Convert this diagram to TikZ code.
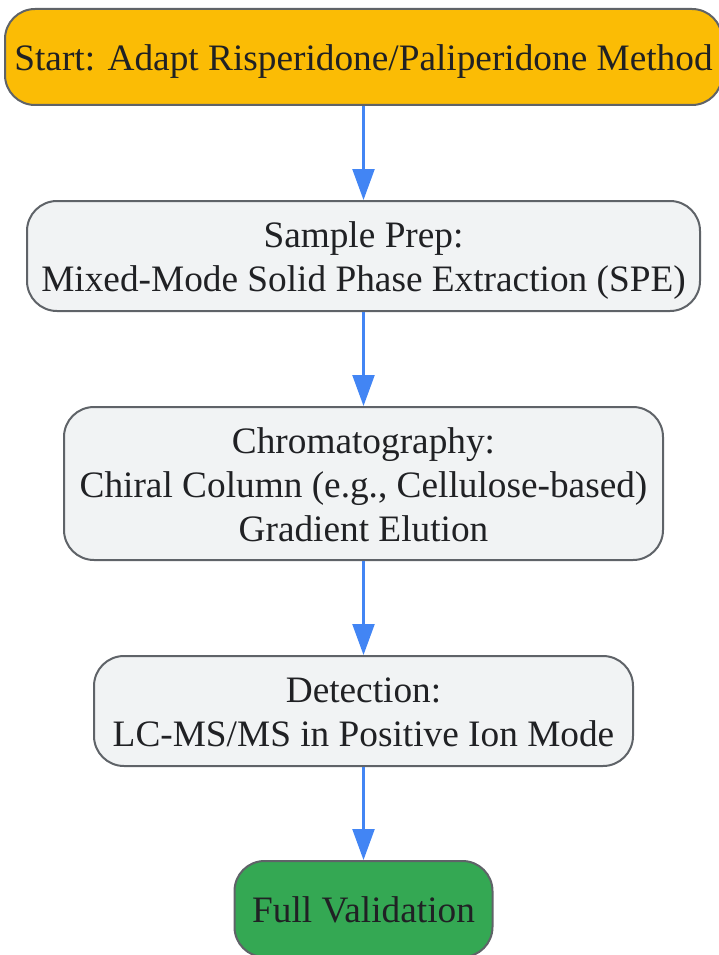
\documentclass[tikz,border=0pt]{standalone}
\usepackage{fontspec}
\setmainfont{Liberation Serif}
\usetikzlibrary{arrows.meta}
\definecolor{startfill}{HTML}{FBBC05}
\definecolor{endfill}{HTML}{34A853}
\definecolor{boxfill}{HTML}{F1F3F4}
\definecolor{boxline}{HTML}{5F6368}
\definecolor{arrowblue}{HTML}{4285F4}
\definecolor{txt}{HTML}{202124}
\newcommand{\linestrut}{\rule[-8.5pt]{0pt}{44pt}}
\tikzset{
  flowbox/.style={draw=boxline, line width=2pt, rounded corners=30pt, inner sep=0pt},
  flowtext/.style={inner sep=0pt, align=center, text=txt,
    font=\fontsize{37.3pt}{44pt}\selectfont},
  flowarrow/.style={draw=arrowblue, line width=2.3pt, -{Triangle[length=31pt,width=22pt]}}
}
\begin{document}
\begin{tikzpicture}[x=1pt,y=-1pt]
\useasboundingbox (0,0) rectangle (719,955);
\node[flowbox, fill=startfill, minimum width=717pt, minimum height=96pt] (start) at (363.5,57) {};
\node[flowtext] (starttext) at (start.center) {\linestrut Start: Adapt Risperidone/Paliperidone Method};
\node[flowbox, fill=boxfill, minimum width=673pt, minimum height=110pt] (prep) at (363.5,256) {};
\node[flowtext] (preptext) at (prep.center) {\linestrut Sample Prep:\\\linestrut Mixed-Mode Solid Phase Extraction (SPE)};
\node[flowbox, fill=boxfill, minimum width=599pt, minimum height=153pt] (chrom) at (363.5,483.5) {};
\node[flowtext] (chromtext) at (chrom.center) {\linestrut Chromatography:\\\linestrut Chiral Column (e.g., Cellulose-based)\\\linestrut Gradient Elution};
\node[flowbox, fill=boxfill, minimum width=539pt, minimum height=110pt] (det) at (363.5,711) {};
\node[flowtext] (dettext) at (det.center) {\linestrut Detection:\\\linestrut LC-MS/MS in Positive Ion Mode};
\node[flowbox, fill=endfill, minimum width=258pt, minimum height=96pt] (val) at (363.5,909) {};
\node[flowtext] (valtext) at (val.center) {\linestrut Full Validation};
\draw[flowarrow] (start.south) -- (prep.north);
\draw[flowarrow] (prep.south) -- (chrom.north);
\draw[flowarrow] (chrom.south) -- (det.north);
\draw[flowarrow] (det.south) -- (val.north);
\end{tikzpicture}
\end{document}
